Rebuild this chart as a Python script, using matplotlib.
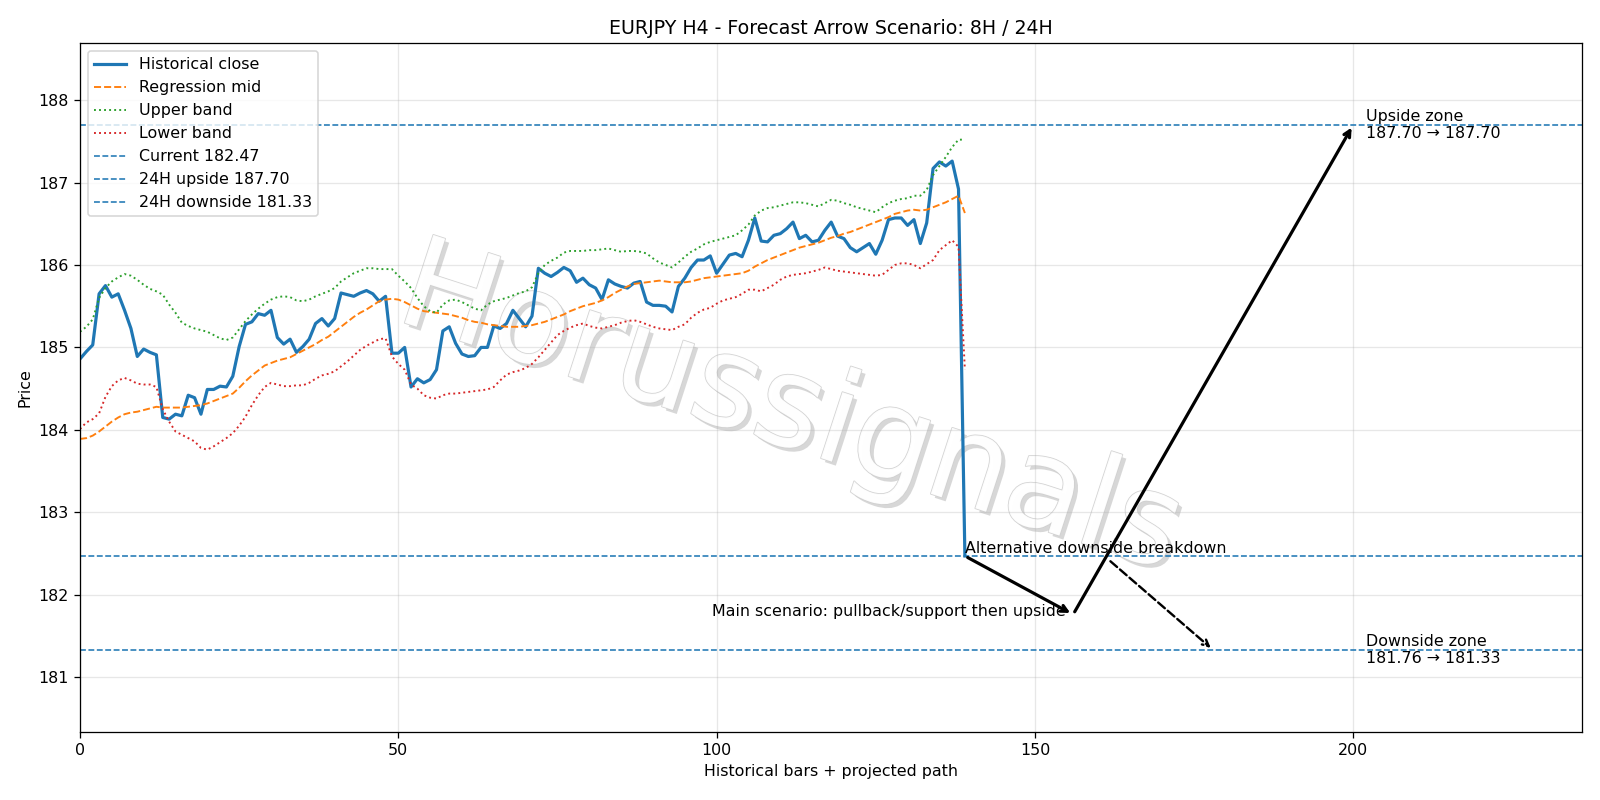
import matplotlib
matplotlib.use("Agg")
import matplotlib.pyplot as plt
import matplotlib.patheffects as pe

# historical bars (EURJPY H4)
close = [184.86, 184.95, 185.03, 185.65, 185.75, 185.61, 185.65, 185.45, 185.23, 184.89,
         184.98, 184.94, 184.91, 184.15, 184.13, 184.19, 184.17, 184.42, 184.39, 184.19,
         184.49, 184.49, 184.53, 184.52, 184.65, 185.01, 185.28, 185.31, 185.41, 185.39,
         185.45, 185.12, 185.04, 185.10, 184.94, 185.01, 185.10, 185.29, 185.35, 185.26,
         185.35, 185.66, 185.64, 185.62, 185.66, 185.69, 185.65, 185.56, 185.62, 184.93,
         184.93, 185.00, 184.52, 184.62, 184.57, 184.61, 184.73, 185.20, 185.25, 185.05,
         184.92, 184.89, 184.90, 185.00, 185.00, 185.26, 185.23, 185.29, 185.45, 185.35,
         185.25, 185.38, 185.96, 185.90, 185.86, 185.91, 185.97, 185.93, 185.79, 185.84,
         185.76, 185.72, 185.58, 185.82, 185.77, 185.74, 185.72, 185.78, 185.80, 185.55,
         185.51, 185.51, 185.50, 185.43, 185.74, 185.84, 185.97, 186.06, 186.06, 186.11,
         185.90, 186.01, 186.12, 186.14, 186.10, 186.30, 186.57, 186.29, 186.28, 186.36,
         186.38, 186.44, 186.52, 186.32, 186.36, 186.28, 186.30, 186.42, 186.52, 186.35,
         186.32, 186.21, 186.16, 186.21, 186.26, 186.13, 186.30, 186.55, 186.57, 186.57,
         186.48, 186.55, 186.26, 186.51, 187.17, 187.25, 187.20, 187.26, 186.92, 182.47]

mid = [183.89, 183.90, 183.93, 183.98, 184.04, 184.10, 184.15, 184.19, 184.21, 184.22,
       184.24, 184.26, 184.28, 184.27, 184.27, 184.27, 184.27, 184.28, 184.29, 184.30,
       184.32, 184.35, 184.38, 184.41, 184.44, 184.51, 184.59, 184.66, 184.72, 184.78,
       184.81, 184.84, 184.86, 184.88, 184.92, 184.96, 185.00, 185.04, 185.09, 185.13,
       185.19, 185.25, 185.31, 185.37, 185.42, 185.46, 185.51, 185.56, 185.58, 185.59,
       185.58, 185.55, 185.51, 185.47, 185.44, 185.43, 185.42, 185.41, 185.40, 185.38,
       185.36, 185.33, 185.31, 185.30, 185.28, 185.27, 185.26, 185.25, 185.25, 185.25,
       185.26, 185.27, 185.29, 185.31, 185.34, 185.37, 185.40, 185.44, 185.47, 185.50,
       185.52, 185.54, 185.57, 185.61, 185.66, 185.70, 185.74, 185.77, 185.78, 185.79,
       185.80, 185.81, 185.80, 185.79, 185.79, 185.79, 185.80, 185.82, 185.84, 185.85,
       185.86, 185.87, 185.88, 185.89, 185.90, 185.93, 185.98, 186.02, 186.06, 186.09,
       186.12, 186.15, 186.18, 186.21, 186.23, 186.25, 186.27, 186.30, 186.33, 186.35,
       186.38, 186.40, 186.43, 186.46, 186.49, 186.52, 186.55, 186.58, 186.62, 186.64,
       186.66, 186.67, 186.66, 186.67, 186.70, 186.73, 186.76, 186.80, 186.84, 186.63]

upper = [185.19, 185.25, 185.34, 185.60, 185.72, 185.80, 185.85, 185.89, 185.87, 185.82,
         185.76, 185.71, 185.68, 185.64, 185.52, 185.42, 185.30, 185.26, 185.23, 185.21,
         185.19, 185.15, 185.11, 185.09, 185.12, 185.22, 185.32, 185.40, 185.47, 185.53,
         185.58, 185.61, 185.62, 185.61, 185.57, 185.56, 185.58, 185.62, 185.65, 185.68,
         185.72, 185.80, 185.85, 185.90, 185.93, 185.96, 185.96, 185.95, 185.95, 185.95,
         185.87, 185.80, 185.72, 185.60, 185.50, 185.44, 185.42, 185.52, 185.57, 185.58,
         185.55, 185.51, 185.47, 185.45, 185.52, 185.56, 185.58, 185.60, 185.63, 185.66,
         185.68, 185.73, 185.90, 186.00, 186.05, 186.09, 186.15, 186.17, 186.17, 186.17,
         186.18, 186.18, 186.19, 186.20, 186.18, 186.16, 186.17, 186.17, 186.16, 186.14,
         186.08, 186.03, 186.00, 185.97, 186.03, 186.10, 186.16, 186.20, 186.25, 186.28,
         186.30, 186.32, 186.34, 186.36, 186.42, 186.49, 186.60, 186.66, 186.69, 186.70,
         186.72, 186.74, 186.76, 186.76, 186.75, 186.73, 186.71, 186.75, 186.79, 186.78,
         186.75, 186.73, 186.70, 186.68, 186.66, 186.64, 186.70, 186.75, 186.78, 186.80,
         186.81, 186.84, 186.84, 186.91, 187.09, 187.20, 187.31, 187.43, 187.52, 187.52]

lower = [184.01, 184.09, 184.13, 184.20, 184.40, 184.53, 184.60, 184.63, 184.60, 184.56,
         184.55, 184.55, 184.52, 184.25, 184.10, 183.98, 183.94, 183.90, 183.86, 183.78,
         183.76, 183.80, 183.85, 183.90, 183.96, 184.05, 184.16, 184.30, 184.42, 184.52,
         184.57, 184.55, 184.53, 184.53, 184.54, 184.54, 184.57, 184.62, 184.66, 184.68,
         184.71, 184.77, 184.83, 184.90, 184.97, 185.02, 185.06, 185.10, 185.11, 184.89,
         184.80, 184.73, 184.55, 184.50, 184.42, 184.39, 184.38, 184.42, 184.44, 184.44,
         184.45, 184.46, 184.47, 184.48, 184.49, 184.52, 184.60, 184.67, 184.70, 184.72,
         184.75, 184.80, 184.88, 184.97, 185.06, 185.15, 185.20, 185.24, 185.27, 185.29,
         185.26, 185.24, 185.23, 185.25, 185.27, 185.30, 185.32, 185.33, 185.31, 185.28,
         185.25, 185.23, 185.22, 185.21, 185.25, 185.28, 185.36, 185.42, 185.46, 185.48,
         185.53, 185.57, 185.59, 185.61, 185.65, 185.70, 185.70, 185.68, 185.72, 185.76,
         185.82, 185.86, 185.88, 185.89, 185.90, 185.92, 185.94, 185.97, 185.95, 185.93,
         185.92, 185.91, 185.90, 185.89, 185.88, 185.87, 185.88, 185.94, 186.00, 186.02,
         186.02, 186.00, 185.96, 186.01, 186.06, 186.18, 186.24, 186.30, 186.22, 184.73]

current = 182.47
up_24h = 187.70
down_24h = 181.33

# projected path: (bar, price)
main_path_x = [139, 156, 200]
main_path_y = [182.47, 181.76, 187.70]
alt_x = [139, 178]
alt_y = [182.47, 181.33]

bars = list(range(len(close)))

fig, ax = plt.subplots(figsize=(14, 7), dpi=800 / 7)

ax.plot(bars, close, color="C0", lw=2, label="Historical close")
ax.plot(bars, mid, color="C1", ls="--", lw=1.2, label="Regression mid")
ax.plot(bars, upper, color="C2", ls=":", lw=1.2, label="Upper band")
ax.plot(bars, lower, color="C3", ls=":", lw=1.2, label="Lower band")
ax.axhline(current, color="C0", ls="--", lw=1, label=f"Current {current:.2f}")
ax.axhline(up_24h, color="C0", ls="--", lw=1, label=f"24H upside {up_24h:.2f}")
ax.axhline(down_24h, color="C0", ls="--", lw=1, label=f"24H downside {down_24h:.2f}")

# main scenario arrows
for i in range(len(main_path_x) - 1):
    ax.annotate("", xy=(main_path_x[i + 1], main_path_y[i + 1]),
                xytext=(main_path_x[i], main_path_y[i]),
                arrowprops=dict(arrowstyle="->", color="black", lw=2))
ax.text(main_path_x[1] - 1.2, main_path_y[1] + 0.04, "Main scenario: pullback/support then upside",
        ha="right", va="center", fontsize=10)

# alternative
ax.annotate("Alternative downside breakdown", xy=(alt_x[1], alt_y[1]),
            xytext=(alt_x[0], alt_y[0]), ha="left", va="bottom", fontsize=10,
            arrowprops=dict(arrowstyle="->", color="black", lw=1.5, ls="--"))

ax.text(202, up_24h, f"Upside zone\n{up_24h:.2f} \u2192 {up_24h:.2f}", va="center", fontsize=10)
ax.text(202, down_24h, f"Downside zone\n181.76 \u2192 {down_24h:.2f}", va="center", fontsize=10)

# watermark
ax.text(0.473, 0.465, "Horussignals", transform=ax.transAxes, fontsize=80,
        rotation=-18, ha="center", va="center", color="white", alpha=0.92, zorder=1.5,
        path_effects=[pe.withSimplePatchShadow(offset=(2.5, -2.5), shadow_rgbFace="#a8a8a8", alpha=0.45),
                      pe.Stroke(linewidth=1.0, foreground="#cfcfcf"), pe.Normal()])

ax.set_xlim(0, 236)
ax.set_ylim(180.34, 188.69)
ax.grid(True, alpha=0.3)
ax.set_title("EURJPY H4 - Forecast Arrow Scenario: 8H / 24H")
ax.set_xlabel("Historical bars + projected path")
ax.set_ylabel("Price")
ax.legend(loc="upper left")

fig.subplots_adjust(left=0.05, right=0.989, top=0.946, bottom=0.0855)
fig.savefig("out.png")
